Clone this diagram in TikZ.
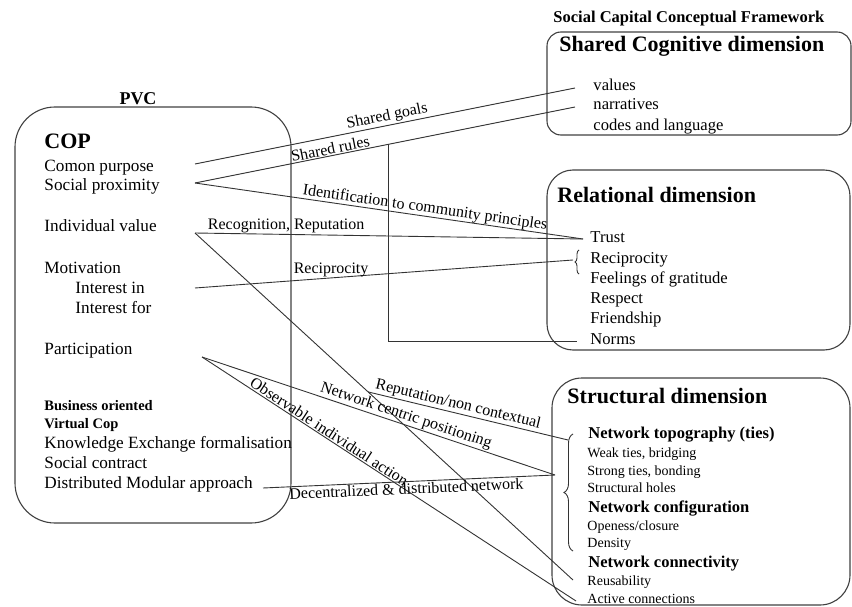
\documentclass[tikz,border=0pt]{standalone}
\usepackage{fontspec}
\setmainfont{Liberation Serif}
\usetikzlibrary{calc,decorations.pathreplacing}

\begin{document}
\begin{tikzpicture}[x=1pt,y=-1pt,line width=0.9pt,draw=black!80,
    txt/.style={anchor=base west,inner sep=0pt,font=\fontsize{17.2}{20}\selectfont},
    item/.style={anchor=base west,inner sep=0pt,font=\fontsize{16.6}{19}\selectfont},
    small/.style={anchor=base west,inner sep=0pt,font=\fontsize{14}{16}\selectfont},
    sub/.style={anchor=base west,inner sep=0pt,font=\bfseries\fontsize{16.5}{19}\selectfont},
    subsmall/.style={anchor=base west,inner sep=0pt,font=\bfseries\fontsize{14.5}{17}\selectfont},
    head/.style={anchor=base west,inner sep=0pt,font=\bfseries\fontsize{22}{25}\selectfont},
    lbl/.style={inner sep=1pt,font=\fontsize{16}{18}\selectfont},
    panel/.style={draw=black!75,line width=1.1pt}]
  \useasboundingbox (0,0) rectangle (852,607);

  % PVC side
  \draw[panel,rounded corners=40] (15,107) rectangle (291,523);
  \node[anchor=base,inner sep=0pt,font=\bfseries\fontsize{18}{20}\selectfont] (pvc) at (138,105) {PVC};
  \node[head] (cop) at (44,149) {COP};
  \node[txt] (purpose) at (44,172) {Comon purpose};
  \node[txt] (proximity) at (44,191) {Social proximity};
  \node[txt] (value) at (44,232) {Individual value};
  \node[txt] (motiv) at (44,273) {Motivation};
  \node[txt] (intin) at (75,293) {Interest in};
  \node[txt] (intfor) at (75,313) {Interest for};
  \node[txt] (partic) at (44,354) {Participation};
  \node[subsmall] (business) at (44,410) {Business oriented};
  \node[subsmall] (vcop) at (44,428) {Virtual Cop};
  \node[txt] (knowl) at (44,448) {Knowledge Exchange formalisation};
  \node[txt] (contract) at (44,468) {Social contract};
  \node[txt] (modular) at (44,488) {Distributed Modular approach};

  % social capital side
  \node[anchor=base west,inner sep=0pt,font=\bfseries\fontsize{16.5}{19}\selectfont] (scf) at (553,23) {Social Capital Conceptual Framework};
  \draw[panel,rounded corners=14] (547,32) rectangle (851,135);
  \node[head] (cogn) at (559,52) {Shared Cognitive dimension};
  \node[item] (values) at (593,91) {values};
  \node[item] (narrat) at (593,110) {narratives};
  \node[item] (codes) at (593,131) {codes and language};

  \draw[panel,rounded corners=26] (547,170) rectangle (850,350);
  \node[head] (relat) at (557,203) {Relational dimension};
  \node[item] (trust) at (590,243) {Trust};
  \node[item] (recip) at (590,263) {Reciprocity};
  \node[item] (grat) at (590,283) {Feelings of gratitude};
  \node[item] (respect) at (590,303) {Respect};
  \node[item] (friend) at (590,323) {Friendship};
  \node[item] (norms) at (590,344) {Norms};

  \draw[panel,rounded corners=30] (552,378) rectangle (850,605);
  \node[head] (struct) at (567,403) {Structural dimension};
  \node[sub] (topog) at (588,438) {Network topography (ties)};
  \node[small] (weak) at (587,457) {Weak ties, bridging};
  \node[small] (strong) at (587,475) {Strong ties, bonding};
  \node[small] (holes) at (587,492) {Structural holes};
  \node[sub] (config) at (588,512) {Network configuration};
  \node[small] (open) at (587,530) {Openess/closure};
  \node[small] (dens) at (587,547) {Density};
  \node[sub] (connect) at (588,567) {Network connectivity};
  \node[small] (reusab) at (587,585) {Reusability};
  \node[small] (active) at (587,603) {Active connections};

  \draw[decorate,decoration={brace,amplitude=4pt}] (579,274) -- (579,250);
  \draw[decorate,decoration={brace,amplitude=9pt}] (573,551) -- (573,434);

  % link ends
  \coordinate (cp) at (195,164);
  \coordinate (sp) at (195,183);
  \coordinate (iv) at (195,233);
  \coordinate (ii) at (195,288);
  \coordinate (pa) at (202,357);
  \coordinate (dm) at (263,488);
  \coordinate (va) at (575,88);
  \coordinate (na) at (575,107);
  \coordinate (tr) at (583,239);
  \coordinate (re) at (573,260);
  \coordinate (no) at (577,341);
  \coordinate (to) at (568,440);
  \coordinate (co) at (555,475);
  \coordinate (ru) at (573,580);
  \coordinate (ac) at (576,601);
  \coordinate (sr) at ($(sp)!0.51!(na)$);
  \coordinate (rp) at ($(iv)!0.458!(ru)$);

  \draw (cp) -- node[lbl,sloped,above,pos=0.51] {Shared goals} (va);
  \draw (sp) -- node[lbl,sloped,above,pos=0.36] {Shared rules} (na);
  \draw (sp) -- node[lbl,sloped,above,pos=0.59,inner sep=0pt] {Identification to community principles} (tr);
  \draw (iv) -- node[lbl,above,pos=0.235] {Recognition, Reputation} (tr);
  \draw (iv) -- (ru);
  \draw (ii) -- node[lbl,above,pos=0.36] {Reciprocity} (re);
  \draw (sr) |- (no);
  \draw (rp) -- node[lbl,sloped,above,pos=0.44] {Reputation/non contextual} (to);
  \draw (pa) -- node[lbl,sloped,above,pos=0.57] {Network centric positioning} (co);
  \draw (pa) -- node[lbl,sloped,above,pos=0.33] {Observable individual action} (ac);
  \draw (dm) -- node[lbl,sloped,below,pos=0.49] {Decentralized \& distributed network} (co);
\end{tikzpicture}
\end{document}
